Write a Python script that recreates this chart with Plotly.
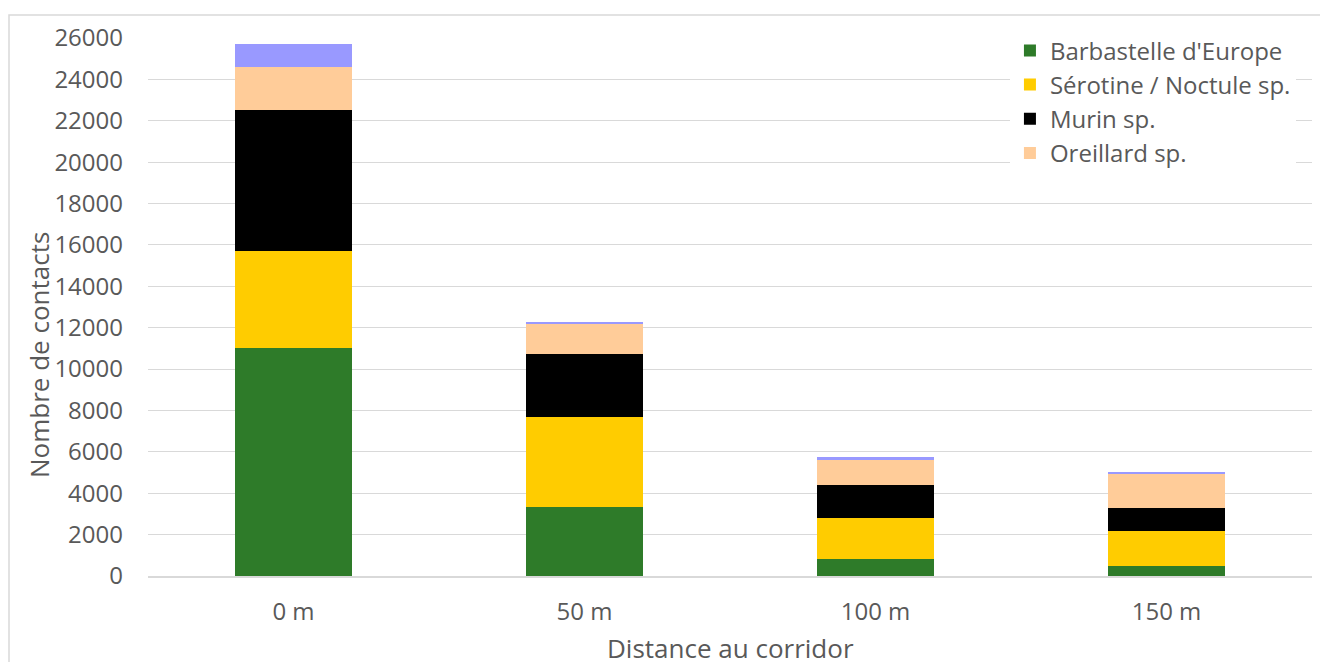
import plotly.graph_objects as go

# Number of bat contacts by distance to the corridor, per species group
distances = ["0 m", "50 m", "100 m", "150 m"]
barbastelle = [11020, 3335, 820, 480]
serotine_noctule = [4690, 4350, 1980, 1695]
murin = [6815, 3045, 1595, 1110]
oreillard = [2080, 1475, 1255, 1655]
autres = [1110, 50, 80, 65]

series = [
    ("Barbastelle d'Europe", barbastelle, "#2E7B29", True),
    ("Sérotine / Noctule sp.", serotine_noctule, "#FFCC00", True),
    ("Murin sp.", murin, "#000000", True),
    ("Oreillard sp.", oreillard, "#FFCC99", True),
    ("Autres", autres, "#9999FF", False),
]

fig = go.Figure()
for i, (name, vals, color, show) in enumerate(series):
    fig.add_trace(go.Bar(
        x=distances, y=vals, name=name,
        marker=dict(color=color, line=dict(width=0)),
        showlegend=show, legendgroup=f"g{i}",
    ))

grey = "#595959"
title_font = dict(family="Open Sans", size=26, color=grey)
fig.update_layout(
    width=1320, height=662,
    barmode="stack", bargap=0.6,
    plot_bgcolor="white", paper_bgcolor="white",
    font=dict(family="Open Sans", size=24, color=grey),
    margin=dict(l=148, r=8, t=38, b=86, autoexpand=False),
    legend=dict(
        x=0.7405, y=1.018, xanchor="left", yanchor="top",
        bgcolor="white", traceorder="grouped", tracegroupgap=0,
        font=dict(family="Open Sans", size=24, color=grey),
    ),
    xaxis=dict(
        showgrid=False, showline=True, linecolor="#D9D9D9", linewidth=1.5,
        ticks="", ticklabelstandoff=13,
    ),
    yaxis=dict(
        range=[0, 26000], dtick=2000, tickformat="d",
        showgrid=True, gridcolor="#D9D9D9", gridwidth=1.3,
        zeroline=False, showline=False, ticks="",
        ticklabelstandoff=24,
    ),
    annotations=[
        dict(
            text="Nombre de contacts", textangle=-90,
            xref="paper", yref="paper", x=(39 - 148) / 1164, y=(576 - 355) / 538,
            xanchor="center", yanchor="middle", showarrow=False, font=title_font,
        ),
        dict(
            text="Distance au corridor",
            xref="paper", yref="paper", x=0.5, y=(576 - 648) / 538,
            xanchor="center", yanchor="middle", showarrow=False, font=title_font,
        ),
    ],
    shapes=[dict(
        type="rect", xref="paper", yref="paper",
        x0=(9 - 148) / 1164, x1=1.1, y0=-0.3, y1=(576 - 15) / 538,
        line=dict(color="#D9D9D9", width=1.5), fillcolor="rgba(0,0,0,0)",
        layer="below",
    )],
)

fig.write_html("out.html")
